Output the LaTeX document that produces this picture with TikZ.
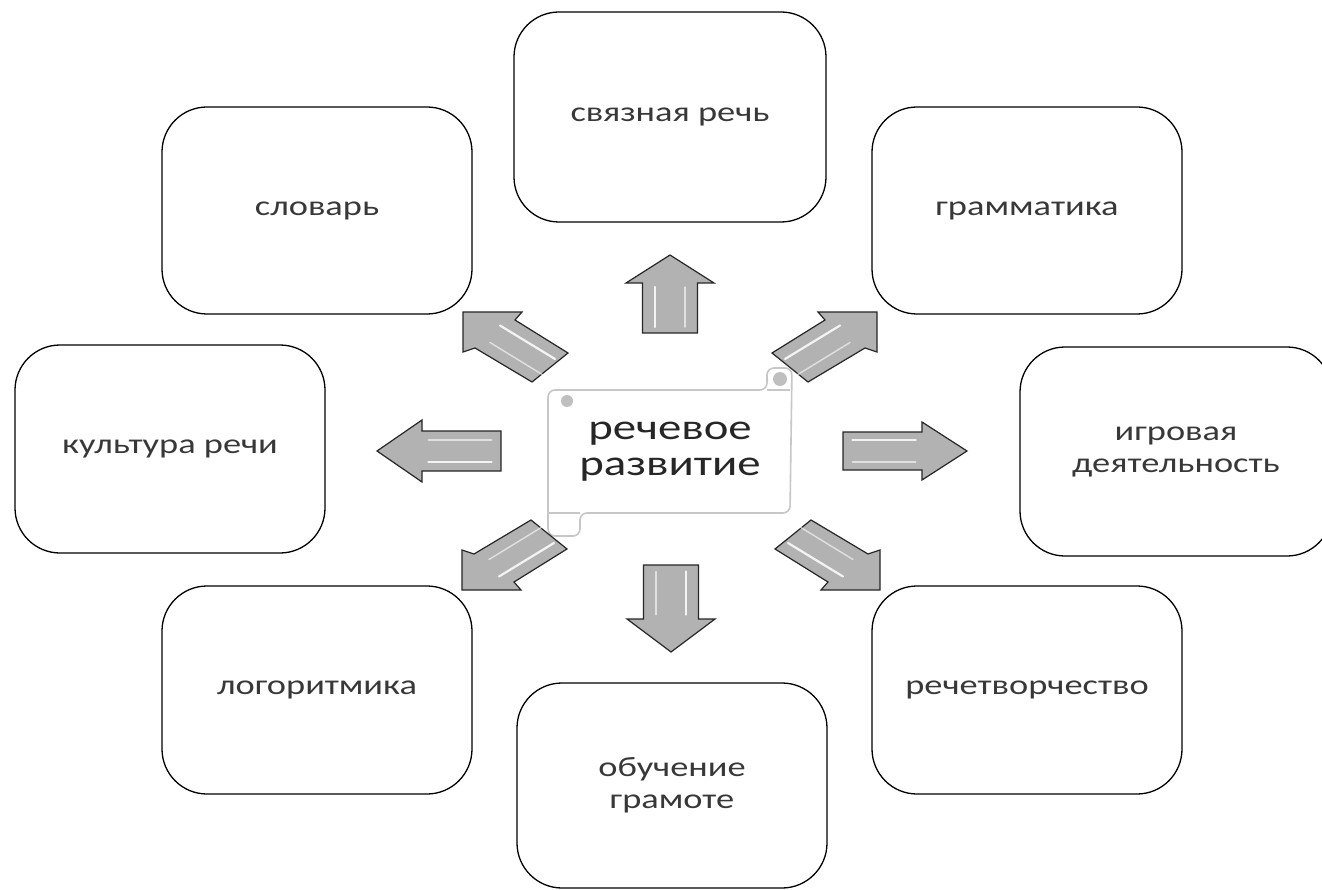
\documentclass[tikz,border=0pt]{standalone}
\usepackage{fontspec}
\setmainfont{Carlito}[FakeStretch=1.3]
\usetikzlibrary{calc}
\tikzset{
  topic/.style={draw=black, line width=1.3pt, rounded corners=45pt, fill=white,
    minimum width=310pt, minimum height=207pt, align=center,
    font=\fontsize{28}{32}\selectfont, text=black!78, inner sep=0pt},
  blockarrow/.style={draw=black!85, line width=1.2pt, fill=black!30, line join=miter},
  gloss/.style={draw=white, line width=2.2pt, opacity=.85, line cap=round},
  softgloss/.style={draw=white, line width=1.4pt, opacity=.6, line cap=round},
  scroll/.style={draw=black!22, line width=1.6pt, fill=white},
  dot/.style={fill=black!25},
}
% straight block arrow: #1 name, #2 tail, #3 tip, #4 shaft half width, #5 head half width, #6 head length, #7 highlight offset
\newcommand{\barrow}[7]{%
  \coordinate (#1-T) at #2;
  \coordinate (#1-P) at #3;
  \coordinate (#1-B) at ($(#1-P)!#6!(#1-T)$);
  \draw[blockarrow] ($(#1-T)!#4!90:(#1-P)$) -- ($(#1-B)!#4!90:(#1-P)$)
    -- ($(#1-B)!#5!90:(#1-P)$) -- (#1-P) -- ($(#1-B)!#5!-90:(#1-P)$)
    -- ($(#1-B)!#4!-90:(#1-P)$) -- ($(#1-T)!#4!-90:(#1-P)$) -- cycle;
  \coordinate (#1-g1) at ($(#1-T)!0.12!(#1-B)$);
  \coordinate (#1-g2) at ($(#1-T)!0.92!(#1-B)$);
  \draw[gloss] ($(#1-g1)!#7!90:(#1-P)$) -- ($(#1-g2)!#7!90:(#1-P)$);
  \draw[softgloss] ($(#1-g1)!#7!-90:(#1-P)$) -- ($(#1-g2)!#7!-90:(#1-P)$);
}
% diagonal block arrow: #1 name, #2 tip, #3 xscale, #4 yscale
\newcommand{\darrow}[4]{%
  \begin{scope}[shift={#2}, xscale=#3, yscale=#4]
    \draw[blockarrow] (0,0) coordinate (#1) -- (59,0) -- (52,8) -- (105,41)
      -- (69,70) -- (12,36) -- (0,40) -- cycle;
    \draw[gloss] (37,13.5) -- (92,47);
    \draw[softgloss] (27,30.5) -- (80,63);
  \end{scope}%
}
\begin{document}
\begin{tikzpicture}[x=1pt, y=-1pt]
  \path[use as bounding box, clip] (0,0) rectangle (1322,890);
  \fill[white] (0,0) rectangle (1322,890);

  % topic boxes
  \node[topic, minimum width=312pt, minimum height=210pt] (svyaz) at (670,117) {связная речь};
  \node[topic] (slovar) at (317,210.5) {словарь};
  \node[topic] (gramm) at (1027,210.5) {грамматика};
  \node[topic, minimum height=208pt] (kultura) at (170,449) {культура речи};
  \node[topic, minimum width=312pt, minimum height=209pt] (igrov) at (1176,451.5) {игровая\\деятельность};
  \node[topic, minimum height=208pt] (logo) at (317,690) {логоритмика};
  \node[topic, minimum height=208pt] (rechet) at (1027,690) {речетворчество};
  \node[topic, minimum height=205pt] (obuch) at (672,785.5) {обучение\\грамоте};

  % central scroll
  \draw[scroll, rounded corners=7pt] (548,390) -- (767,390) -- (767,368) -- (792,368)
    -- (790,513) -- (580,513) -- (580,536) -- (548,536) -- cycle;
  \draw[draw=black!22, line width=1.2pt] (767,390) -- (790,390);
  \draw[draw=black!22, line width=1.2pt] (548,513) -- (580,513);
  \fill[dot] (780,379) circle (7);
  \fill[dot] (567,401) circle (6);
  \node[font=\fontsize{36}{36}\selectfont, text=black!85, align=center] (center) at (670,452)
    {речевое\\развитие};

  % block arrows
  \barrow{up}{(670,333)}{(670,255)}{27.5pt}{44pt}{28pt}{15pt}
  \barrow{down}{(671,565)}{(671,652)}{27.5pt}{44pt}{33pt}{15pt}
  \barrow{left}{(501,451)}{(377,451)}{20pt}{31pt}{45pt}{11pt}
  \barrow{right}{(843,451)}{(967,451)}{19pt}{29pt}{45pt}{11pt}
  \darrow{ul}{(463,312)}{1}{1}
  \darrow{ur}{(877,312)}{-1}{1}
  \darrow{dl}{(462,590)}{1}{-1}
  \darrow{dr}{(880,590)}{-1}{-1}
\end{tikzpicture}
\end{document}
